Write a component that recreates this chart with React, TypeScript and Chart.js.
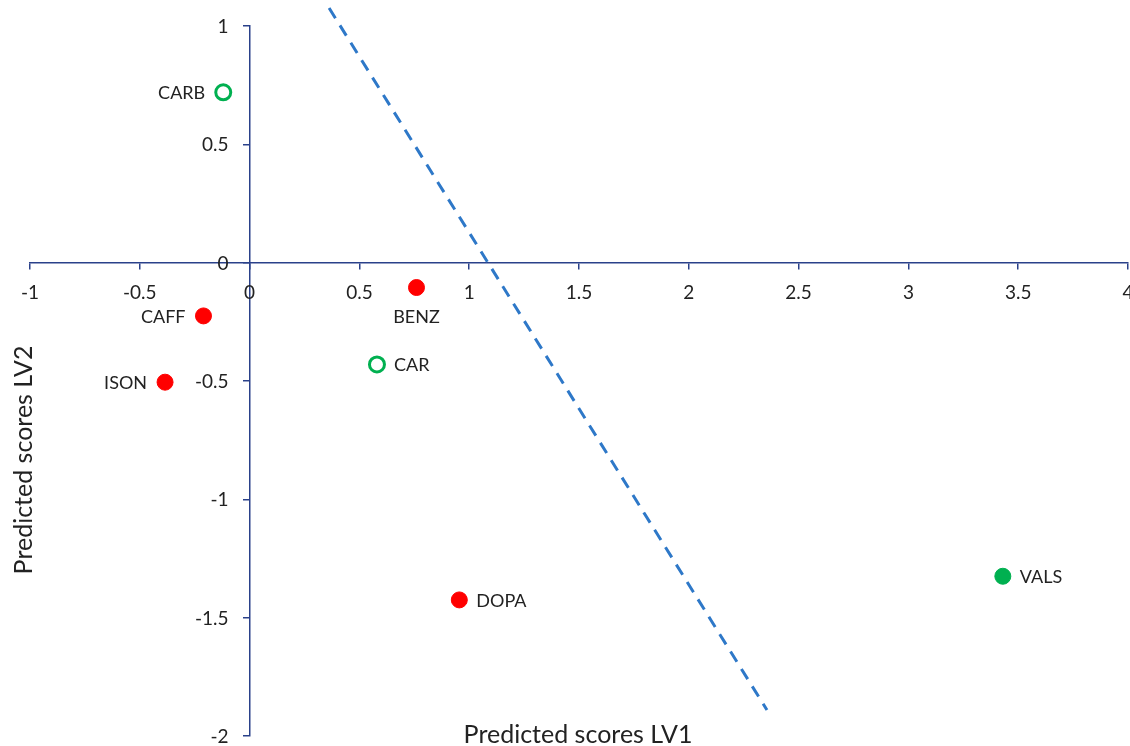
import React, { useEffect, useRef } from "react";
import { Chart, registerables } from "chart.js";

Chart.register(...registerables);

// Sample names and their predicted scores on the two latent variables
const sampleNames = ["CARB", "CAFF", "ISON", "BENZ", "CAR", "DOPA", "VALS"];
const lv1Scores = [-0.12, -0.21, -0.385, 0.76, 0.58, 0.955, 3.43];
const lv2Scores = [0.72, -0.225, -0.505, -0.105, -0.43, -1.425, -1.325];
// marker style per sample: "red" filled, "green" filled, "open" green ring
const markerKinds = ["open", "red", "red", "red", "open", "red", "green"];
// where each label sits relative to its marker
const labelSides = ["left", "left", "left", "below", "right", "right", "right"];

// Discriminant boundary drawn as a dashed line between two end points
const boundaryLV1 = [0.362, 2.356];
const boundaryLV2 = [1.076, -1.89];

// Axis tick values
const xTicks = [-1, -0.5, 0, 0.5, 1, 1.5, 2, 2.5, 3, 3.5, 4];
const yTicks = [-2, -1.5, -1, -0.5, 0, 0.5, 1];

const xTitle = "Predicted scores LV1";
const yTitle = "Predicted scores LV2";

const AXIS_COLOR = "#2A418A";
const TEXT_COLOR = "#222222";
const FONT = "Lato, 'Open Sans', sans-serif";

const fillFor = (k: string) => (k === "red" ? "#FF0000" : k === "green" ? "#00B050" : "#FFFFFF");
const borderFor = (k: string) => (k === "red" ? "#FF0000" : "#00B050");

// Tick labels drawn beside the crossing axes
const tickLabelPlugin = {
  id: "tickLabels",
  afterDraw(chart: any) {
    const ctx = chart.ctx;
    const xs = chart.scales.x;
    const ys = chart.scales.y;
    const x0 = xs.getPixelForValue(0);
    const y0 = ys.getPixelForValue(0);
    ctx.save();
    ctx.font = `19px ${FONT}`;
    ctx.fillStyle = TEXT_COLOR;
    ctx.textAlign = "center";
    ctx.textBaseline = "middle";
    xTicks.forEach((v) => ctx.fillText(String(v), xs.getPixelForValue(v), y0 + 30));
    ctx.textAlign = "right";
    yTicks.forEach((v) => ctx.fillText(String(v), x0 - 21, ys.getPixelForValue(v) + 1));
    ctx.restore();
  },
};

const labelPlugin = {
  id: "pointLabels",
  afterDatasetsDraw(chart: any) {
    const ctx = chart.ctx;
    const meta = chart.getDatasetMeta(1);
    ctx.save();
    ctx.font = `18px ${FONT}`;
    ctx.fillStyle = TEXT_COLOR;
    ctx.textBaseline = "middle";
    meta.data.forEach((el: any, i: number) => {
      const side = labelSides[i];
      const { x, y } = el;
      if (side === "left") {
        ctx.textAlign = "right";
        ctx.fillText(sampleNames[i], x - 18, y + 1);
      } else if (side === "right") {
        ctx.textAlign = "left";
        ctx.fillText(sampleNames[i], x + 17, y + 1);
      } else {
        ctx.textAlign = "center";
        ctx.fillText(sampleNames[i], x, y + 30);
      }
    });
    ctx.restore();
  },
};

const titlePlugin = {
  id: "axisTitles",
  afterDraw(chart: any) {
    const ctx = chart.ctx;
    ctx.save();
    ctx.font = `25px ${FONT}`;
    ctx.fillStyle = TEXT_COLOR;
    ctx.textAlign = "center";
    ctx.textBaseline = "middle";
    ctx.fillText(xTitle, 578, 735);
    ctx.translate(24, 460);
    ctx.rotate(-Math.PI / 2);
    ctx.fillText(yTitle, 0, 0);
    ctx.restore();
  },
};

export default function App() {
  const canvasRef = useRef<HTMLCanvasElement | null>(null);

  useEffect(() => {
    const canvas = canvasRef.current;
    if (!canvas) return;
    const chart = new Chart(canvas, {
      type: "scatter",
      data: {
        datasets: [
          {
            type: "line",
            data: boundaryLV1.map((x, i) => ({ x, y: boundaryLV2[i] })),
            borderColor: "#2E78C8",
            borderWidth: 3,
            borderDash: [12, 8.5],
            pointRadius: 0,
            fill: false,
            clip: false as any,
          },
          {
            data: lv1Scores.map((x, i) => ({ x, y: lv2Scores[i] })),
            pointRadius: markerKinds.map((k) => (k === "open" ? 7.5 : 8)),
            pointBorderWidth: markerKinds.map((k) => (k === "open" ? 3 : 1)),
            pointBackgroundColor: markerKinds.map(fillFor),
            pointBorderColor: markerKinds.map(borderFor),
            clip: false as any,
          },
        ],
      },
      options: {
        animation: false,
        responsive: false,
        devicePixelRatio: 1,
        layout: { autoPadding: false, padding: { left: 30, right: 2, top: 26, bottom: 10 } },
        plugins: { legend: { display: false }, tooltip: { enabled: false } },
        scales: {
          x: {
            type: "linear",
            min: -1,
            max: 4,
            position: { y: 0 } as any,
            afterFit: (s: any) => { s.height = 0; },
            border: { display: true, color: AXIS_COLOR, width: 1.5 },
            grid: { drawOnChartArea: false, drawTicks: true, tickLength: 6, color: AXIS_COLOR, lineWidth: 1.5 },
            ticks: { stepSize: 0.5, display: false, autoSkip: false },
          },
          y: {
            type: "linear",
            min: -2,
            max: 1,
            position: { x: 0 } as any,
            afterFit: (s: any) => { s.width = 0; },
            border: { display: true, color: AXIS_COLOR, width: 1.5 },
            grid: { drawOnChartArea: false, drawTicks: true, tickLength: 6, color: AXIS_COLOR, lineWidth: 1.5 },
            ticks: { stepSize: 0.5, display: false, autoSkip: false },
          },
        },
      },
      plugins: [tickLabelPlugin, labelPlugin, titlePlugin],
    });
    return () => chart.destroy();
  }, []);

  return (
    <canvas
      ref={canvasRef}
      width={1130}
      height={746}
      style={{ position: "absolute", left: 0, top: 0, width: 1130, height: 746, background: "#fff" }}
    />
  );
}
